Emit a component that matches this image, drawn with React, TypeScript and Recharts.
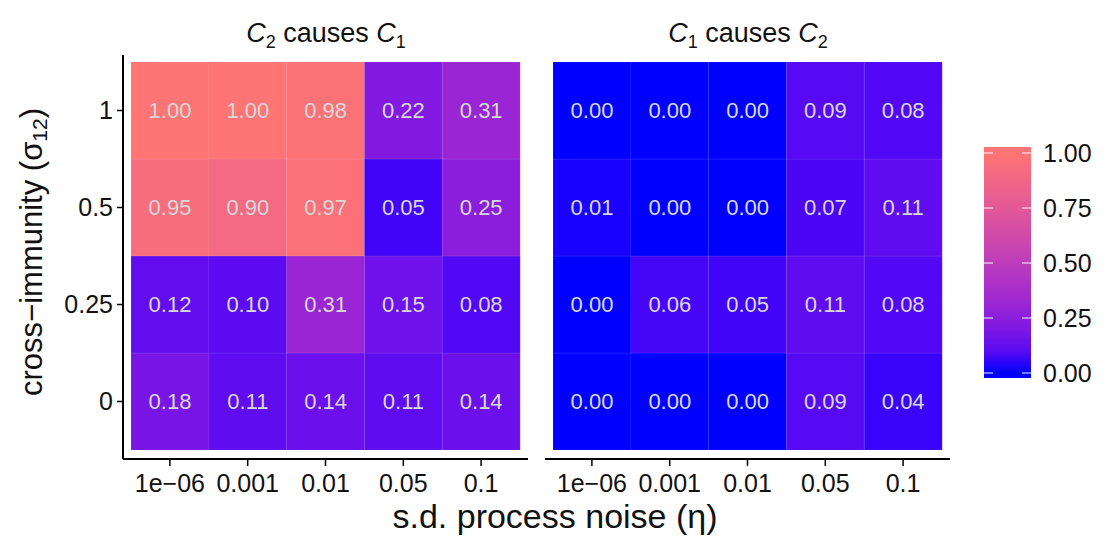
import React from 'react';
import { BarChart, Bar, XAxis, YAxis, Cell, LabelList } from 'recharts';

// categories
const noiseLevels = ['1e\u221206', '0.001', '0.01', '0.05', '0.1'];
const crossImmunity = ['0', '0.25', '0.5', '1']; // bottom row first

// proportion values, one array per cross-immunity row (bottom to top)
const c2CausesC1 = [
    [0.18, 0.11, 0.14, 0.11, 0.14],
    [0.12, 0.10, 0.31, 0.15, 0.08],
    [0.95, 0.90, 0.97, 0.05, 0.25],
    [1.00, 1.00, 0.98, 0.22, 0.31],
];
const c1CausesC2 = [
    [0.00, 0.00, 0.00, 0.09, 0.04],
    [0.00, 0.06, 0.05, 0.11, 0.08],
    [0.01, 0.00, 0.00, 0.07, 0.11],
    [0.00, 0.00, 0.00, 0.09, 0.08],
];
const legendTicks = [0, 0.25, 0.5, 0.75, 1];

const FONT = '"Liberation Sans", Arial, Helvetica, sans-serif';
const LOW = '#0000FF';
const HIGH = '#FF7474';

// --- Lab colour ramp (like ggplot's gradient) ---
const toLin = (c: number) => {
    c /= 255;
    return c <= 0.04045 ? c / 12.92 : Math.pow((c + 0.055) / 1.055, 2.4);
};
const fromLin = (c: number) => {
    const v = c <= 0.0031308 ? 12.92 * c : 1.055 * Math.pow(c, 1 / 2.4) - 0.055;
    return Math.round(Math.min(1, Math.max(0, v)) * 255);
};
const hexToLab = (hex: string) => {
    const r = toLin(parseInt(hex.slice(1, 3), 16));
    const g = toLin(parseInt(hex.slice(3, 5), 16));
    const b = toLin(parseInt(hex.slice(5, 7), 16));
    const X = (0.4124 * r + 0.3576 * g + 0.1805 * b) / 0.95047;
    const Y = 0.2126 * r + 0.7152 * g + 0.0722 * b;
    const Z = (0.0193 * r + 0.1192 * g + 0.9505 * b) / 1.08883;
    const f = (t: number) => (t > 0.008856 ? Math.cbrt(t) : 7.787 * t + 16 / 116);
    return [116 * f(Y) - 16, 500 * (f(X) - f(Y)), 200 * (f(Y) - f(Z))];
};
const labToRgb = ([L, a, bb]: number[]) => {
    const fy = (L + 16) / 116;
    const fx = fy + a / 500;
    const fz = fy - bb / 200;
    const inv = (t: number) => (t * t * t > 0.008856 ? t * t * t : (t - 16 / 116) / 7.787);
    const X = inv(fx) * 0.95047, Y = inv(fy), Z = inv(fz) * 1.08883;
    const r = 3.2406 * X - 1.5372 * Y - 0.4986 * Z;
    const g = -0.9689 * X + 1.8758 * Y + 0.0415 * Z;
    const b = 0.0557 * X - 0.204 * Y + 1.057 * Z;
    return `rgb(${fromLin(r)},${fromLin(g)},${fromLin(b)})`;
};
const lowLab = hexToLab(LOW);
const highLab = hexToLab(HIGH);
const fillFor = (v: number) => labToRgb(lowLab.map((l, i) => l + (highLab[i] - l) * v));

const buildRows = (values: number[][]) =>
    noiseLevels.map((noise, i) => {
        const row: any = { noise };
        crossImmunity.forEach((_, r) => {
            row[`h${r}`] = 1;
            row[`v${r}`] = values[r][i];
        });
        return row;
    });

const TileLabel = (props: any) => {
    const { x, y, width, height, value } = props;
    return (
        <text
            x={Number(x) + Number(width) / 2}
            y={Number(y) + Number(height) / 2}
            textAnchor="middle"
            dominantBaseline="central"
            fill="#d9d9d9"
            fontSize={22}
            fontFamily={FONT}
        >
            {Number(value).toFixed(2)}
        </text>
    );
};

const Panel = ({ values, showY, width, margin }: any) => {
    const data = buildRows(values);
    return (
        <BarChart width={width} height={536} data={data} margin={margin} barCategoryGap={0} barGap={0}>
            <XAxis
                dataKey="noise"
                interval={0}
                height={77}
                padding={{ left: 8, right: 8 }}
                tickSize={7}
                tickMargin={8}
                tick={{ fill: '#111', fontSize: 25, fontFamily: FONT }}
                tickLine={{ stroke: '#000', strokeWidth: 1.5 }}
                axisLine={{ stroke: '#000', strokeWidth: 2 }}
            />
            <YAxis
                type="number"
                domain={[0, 4]}
                ticks={[0.5, 1.5, 2.5, 3.5]}
                tickFormatter={(v: number) => crossImmunity[Math.floor(v)]}
                hide={!showY}
                width={showY ? 123 : 0}
                padding={{ top: 7, bottom: 9 }}
                tickSize={6}
                tickMargin={4}
                tick={{ fill: '#111', fontSize: 25, fontFamily: FONT }}
                tickLine={{ stroke: '#000', strokeWidth: 1.5 }}
                axisLine={{ stroke: '#000', strokeWidth: 2 }}
            />
            {crossImmunity.map((_, r) => (
                <Bar key={r} dataKey={`h${r}`} stackId="tiles" isAnimationActive={false}>
                    {data.map((d: any, i: number) => (
                        <Cell key={i} fill={fillFor(d[`v${r}`])} stroke="#ffffff" strokeOpacity={0.08} />
                    ))}
                    <LabelList dataKey={`v${r}`} content={TileLabel} />
                </Bar>
            ))}
        </BarChart>
    );
};

const Title = ({ cx, a, b }: { cx: number; a: string; b: string }) => (
    <text x={cx} y={42} textAnchor="middle" fontSize={27} fill="#111" fontFamily={FONT}>
        <tspan fontStyle="italic">C</tspan>
        <tspan fontSize={18} dy={6}>{a}</tspan>
        <tspan dy={-6}> causes </tspan>
        <tspan fontStyle="italic">C</tspan>
        <tspan fontSize={18} dy={6}>{b}</tspan>
    </text>
);

const ColorBar = () => {
    const top = 147, bottom = 378, left = 984, right = 1031;
    const y0 = 373, y1 = 153;
    const stops = [0, 0.1, 0.2, 0.3, 0.4, 0.5, 0.6, 0.7, 0.8, 0.9, 1];
    return (
        <g>
            <defs>
                <linearGradient id="bar" x1="0" y1="1" x2="0" y2="0">
                    {stops.map((s) => (
                        <stop key={s} offset={(s * (y0 - y1) + (bottom - y0)) / (bottom - top)} stopColor={fillFor(s)} />
                    ))}
                </linearGradient>
            </defs>
            <rect x={left} y={top} width={right - left} height={bottom - top} fill="url(#bar)" />
            {legendTicks.map((t) => {
                const y = y0 + (y1 - y0) * t;
                return (
                    <g key={t}>
                        <line x1={left} x2={left + 9} y1={y} y2={y} stroke="#fff" strokeOpacity={0.8} strokeWidth={1.2} />
                        <line x1={right - 9} x2={right} y1={y} y2={y} stroke="#fff" strokeOpacity={0.8} strokeWidth={1.2} />
                        <text x={1043} y={y} dominantBaseline="central" fontSize={25} fill="#111" fontFamily={FONT}>
                            {t.toFixed(2)}
                        </text>
                    </g>
                );
            })}
        </g>
    );
};

export default function App() {
    return (
        <div style={{ position: 'absolute', left: 0, top: 0, width: 1112, height: 536, background: '#fff', fontFamily: FONT }}>
            <div style={{ position: 'absolute', left: 0, top: 0 }}>
                <Panel values={c2CausesC1} showY width={540} margin={{ top: 55, right: 12, bottom: 0, left: 0 }} />
            </div>
            <div style={{ position: 'absolute', left: 540, top: 0 }}>
                <Panel values={c1CausesC2} showY={false} width={420} margin={{ top: 55, right: 10, bottom: 0, left: 5 }} />
            </div>
            <svg width={1112} height={536} style={{ position: 'absolute', left: 0, top: 0, pointerEvents: 'none' }}>
                <Title cx={326} a="2" b="1" />
                <Title cx={748} a="1" b="2" />
                <text x={555} y={528} textAnchor="middle" fontSize={34} fill="#111" fontFamily={FONT}>
                    s.d. process noise (η)
                </text>
                <text
                    transform="translate(42,252) rotate(-90)"
                    textAnchor="middle"
                    fontSize={31}
                    fill="#111"
                    fontFamily={FONT}
                >
                    cross{'\u2212'}immunity (σ
                    <tspan fontSize={21} dy={5}>12</tspan>
                    <tspan dy={-5}>)</tspan>
                </text>
                <ColorBar />
            </svg>
        </div>
    );
}
